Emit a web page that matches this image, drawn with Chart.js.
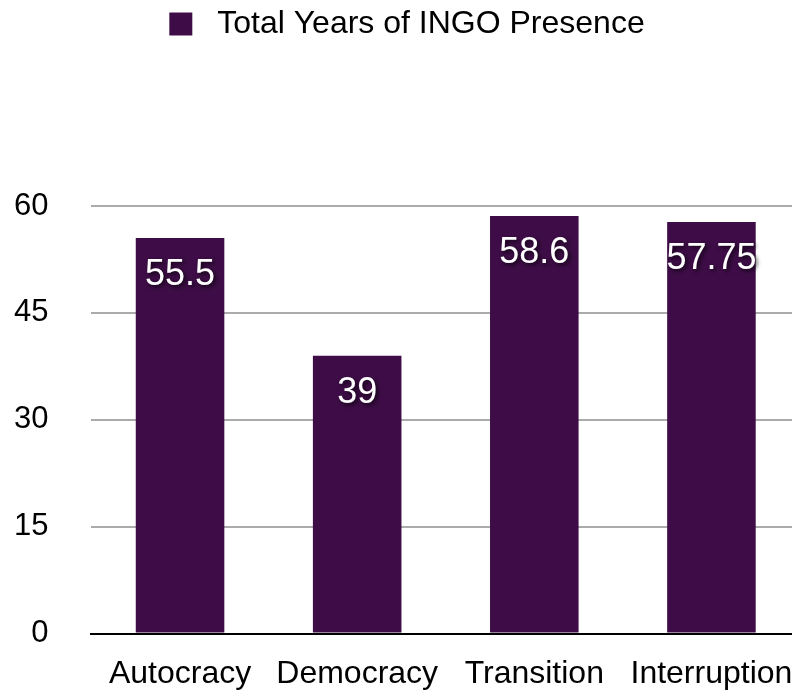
<!DOCTYPE html>
<html>
<head>
<meta charset="utf-8">
<script src="https://cdn.jsdelivr.net/npm/chart.js@4/dist/chart.umd.min.js"></script>
<style>
  html, body { margin: 0; padding: 0; background: #fff; overflow: hidden; }
  #wrap { width: 800px; height: 691px; overflow: hidden; }
</style>
</head>
<body>
<div id="wrap"><canvas id="ingoChart" width="800" height="693"></canvas></div>
<script>
// data
const categories = ['Autocracy', 'Democracy', 'Transition', 'Interruption'];
const totalYears = [55.5, 39, 58.6, 57.75];
const yTicks = [0, 15, 30, 45, 60];
const seriesName = 'Total Years of INGO Presence';

const barColor = '#3e0d47';
const fontFamily = '"Liberation Sans", Arial, Helvetica, sans-serif';

// white value labels inside the top of each bar
const valueLabels = {
    id: 'valueLabels',
    afterDatasetsDraw(chart) {
        const ctx = chart.ctx;
        const meta = chart.getDatasetMeta(0);
        ctx.save();
        ctx.font = '36px ' + fontFamily;
        ctx.fillStyle = '#fff';
        ctx.textAlign = 'center';
        ctx.textBaseline = 'middle';
        ctx.shadowColor = 'rgba(0,0,0,0.75)';
        ctx.shadowBlur = 4;
        ctx.shadowOffsetX = 2;
        ctx.shadowOffsetY = 2;
        meta.data.forEach((bar, i) => {
            ctx.fillText(String(totalYears[i]), bar.x, bar.y + 37);
        });
        ctx.restore();
    }
};

// push the plot down below the legend
const legendSpace = {
    id: 'legendSpace',
    beforeInit(chart) {
        const fit = chart.legend.fit;
        chart.legend.fit = function () {
            fit.bind(chart.legend)();
            this.height = 206;
        };
    }
};

const ctx = document.getElementById('ingoChart').getContext('2d');
const ingoChart = new Chart(ctx, {
    type: 'bar',
    data: {
        labels: categories,
        datasets: [{
            label: ' ' + seriesName,
            data: totalYears,
            backgroundColor: barColor,
            borderWidth: 0,
            barPercentage: 0.5,
            categoryPercentage: 1.0
        }]
    },
    options: {
        responsive: false,
        animation: false,
        layout: { padding: { left: 14, right: 0, top: 0, bottom: 0 } },
        plugins: {
            tooltip: { enabled: false },
            legend: {
                display: true,
                position: 'top',
                labels: {
                    color: '#000',
                    font: { family: fontFamily, size: 32 },
                    boxWidth: 23,
                    boxHeight: 23,
                    padding: 8
                }
            }
        },
        scales: {
            x: {
                grid: {
                    display: true,
                    drawOnChartArea: false,
                    drawTicks: true,
                    tickLength: 21,
                    tickColor: 'rgba(0,0,0,0)'
                },
                border: { display: true, color: '#000', width: 2 },
                ticks: {
                    color: '#000',
                    font: { family: fontFamily, size: 32 },
                    padding: 0,
                    maxRotation: 0
                }
            },
            y: {
                min: 0,
                max: 60,
                afterBuildTicks(scale) {
                    scale.ticks = yTicks.map(v => ({ value: v }));
                },
                grid: {
                    color: '#ababab',
                    lineWidth: 2,
                    drawTicks: true,
                    tickLength: 43,
                    tickColor: 'rgba(0,0,0,0)'
                },
                border: { display: false },
                ticks: {
                    color: '#000',
                    font: { family: fontFamily, size: 31 },
                    padding: 0
                }
            }
        }
    },
    plugins: [valueLabels, legendSpace]
});
</script>
</body>
</html>
